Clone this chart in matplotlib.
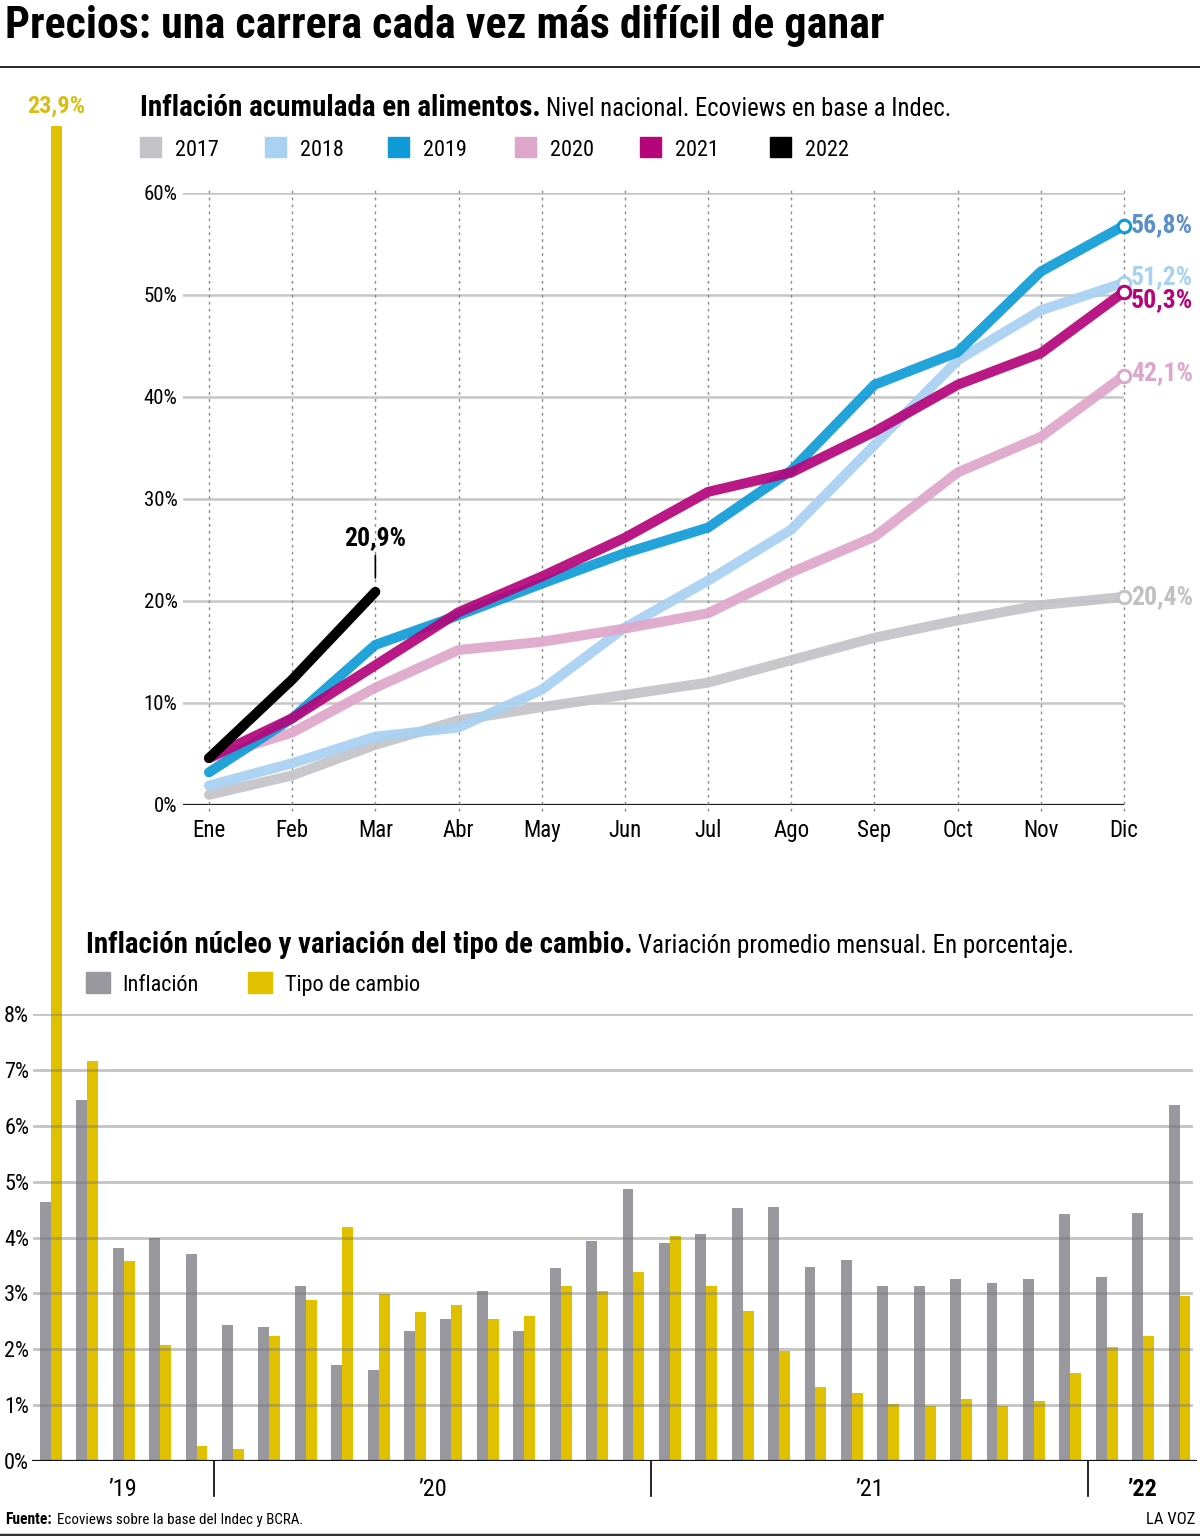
import numpy as np
import matplotlib
matplotlib.use("Agg")
import matplotlib.pyplot as plt
from matplotlib import font_manager
from matplotlib.patches import Rectangle
from matplotlib.lines import Line2D

W, H = 1200, 1536

# --- datos: inflación acumulada en alimentos (%) ---
meses = ["Ene", "Feb", "Mar", "Abr", "May", "Jun", "Jul", "Ago", "Sep", "Oct", "Nov", "Dic"]
anios = ["2017", "2018", "2019", "2020", "2021", "2022"]
alim_2017 = [1.0, 2.9, 5.9, 8.3, 9.6, 10.8, 12.0, 14.2, 16.4, 18.1, 19.6, 20.4]
alim_2018 = [1.9, 4.1, 6.7, 7.6, 11.3, 17.4, 22.0, 27.0, 35.3, 43.6, 48.5, 51.2]
alim_2019 = [3.2, 8.5, 15.7, 18.6, 21.7, 24.7, 27.2, 32.8, 41.2, 44.4, 52.3, 56.8]
alim_2020 = [4.6, 7.1, 11.5, 15.2, 16.0, 17.3, 18.8, 22.8, 26.3, 32.6, 36.1, 42.1]
alim_2021 = [4.6, 8.5, 13.7, 18.9, 22.4, 26.2, 30.7, 32.6, 36.6, 41.2, 44.3, 50.3]
alim_2022 = [4.6, 12.3, 20.9]
etiquetas_fin = ["20,4%", "51,2%", "56,8%", "42,1%", "50,3%"]

# --- datos: inflación núcleo y tipo de cambio, ago-2019 a mar-2022 (%) ---
secciones = ["’19", "’20", "’21", "’22"]
meses_por_seccion = [5, 12, 12, 3]
inflacion = [4.64, 6.46, 3.81, 4.0, 3.70,
             2.44, 2.39, 3.14, 1.72, 1.62, 2.32, 2.55, 3.05, 2.32, 3.46, 3.94, 4.87,
             3.91, 4.07, 4.52, 4.55, 3.47, 3.60, 3.14, 3.14, 3.26, 3.19, 3.26, 4.42,
             3.29, 4.44, 6.38]
tipo_cambio = [23.9, 7.16, 3.58, 2.07, 0.26,
               0.22, 2.23, 2.89, 4.18, 2.99, 2.67, 2.79, 2.55, 2.60, 3.14, 3.05, 3.38,
               4.02, 3.14, 2.69, 1.97, 1.33, 1.21, 1.02, 0.99, 1.11, 0.98, 1.07, 1.57,
               2.04, 2.23, 2.95]

colores = ["#c3c3c8", "#a8d1f2", "#0f9bd7", "#dfa6cb", "#b4057b", "#000000"]
colores_etq = ["#c0c0c5", "#a8d1f2", "#5b8fc7", "#dfa6cb", "#b4057b"]
GRIS = "#98989e"
AMARILLO = "#e1c000"

disponibles = {f.name for f in font_manager.fontManager.ttflist}
FUENTE = next((f for f in ["Roboto Condensed", "Open Sans Condensed", "Liberation Sans Narrow", "Roboto"]
               if f in disponibles), "DejaVu Sans")
plt.rcParams["font.family"] = [FUENTE, "DejaVu Sans"]

fig = plt.figure(figsize=(W / 100, H / 100), dpi=100)
fig.patch.set_facecolor("white")
renderer = fig.canvas.get_renderer()


def fx(x):
    return x / W


def fy(y):
    return 1 - y / H


def texto(x, y, s, size, ancho=None, **kw):
    t = fig.text(fx(x), fy(y), s, fontsize=size, va="baseline", **kw)
    if ancho is not None:
        bb = t.get_window_extent(renderer)
        t.set_fontsize(size * ancho / bb.width)
    return t


def rico(x, y, negrita, normal, size, ancho1, ancho2):
    t = texto(x, y, negrita, size, ancho1, fontweight="bold")
    bb = t.get_window_extent(renderer)
    texto(bb.x1 + 5, y, normal, size, ancho2)


# título y reglas
texto(5, 38, "Precios: una carrera cada vez más difícil de ganar", 30, 880, fontweight="black")
fig.add_artist(Line2D([0, 1], [fy(67), fy(67)], color="black", lw=1.2))
fig.add_artist(Line2D([0, 1], [fy(1534.5), fy(1534.5)], color="#333333", lw=2.5))

# ---------------- gráfico superior ----------------
rico(140, 116, "Inflación acumulada en alimentos.", "Nivel nacional. Ecoviews en base a Indec.", 19, 401, 404)
leg_x = [140, 265, 388, 515, 640, 770]
for xx, lab, c in zip(leg_x, anios, colores):
    fig.add_artist(Rectangle((fx(xx), fy(157)), 21 / W, 20 / H, color=c, transform=fig.transFigure))
    texto(xx + 35, 156, lab, 16)

ax = fig.add_axes([fx(183), fy(805), (1124 - 183) / W, (805 - 193) / H])
ax.set_xlim(-26 / 83.2, 11)
ax.set_ylim(0, 60)
ax.patch.set_alpha(0)
for s in ax.spines.values():
    s.set_visible(False)
for v in range(10, 70, 10):
    ax.axhline(v, color="#c6c6c6", lw=1.8, zorder=1)
ax.axhline(0, color="#1a1a1a", lw=1.6, zorder=1)
for i in range(12):
    ax.plot([i, i], [-0.6, 60.4], color="#8a8a8a", lw=1, ls=(0, (2, 3)), zorder=1, clip_on=False)

ax.set_yticks(range(0, 70, 10), [f"{v}%" for v in range(0, 70, 10)])
ax.set_xticks(range(12), meses)
ax.tick_params(length=0, labelsize=15)
ax.tick_params(axis="y", pad=4)
ax.tick_params(axis="x", pad=10, labelsize=16.5)

series = [alim_2017, alim_2018, alim_2019, alim_2020, alim_2021, alim_2022]
orden = [0, 1, 3, 2, 4, 5]
for z, k in enumerate(orden):
    s = series[k]
    ax.plot(range(len(s)), s, color=colores[k], lw=7.2, alpha=0.92 if k < 5 else 1,
            solid_capstyle="round", solid_joinstyle="round", zorder=3 + z, clip_on=False)

desp = [0, 6, 0, 2, -8]
for k in range(5):
    v = series[k][-1]
    ax.plot(11, v, "o", ms=9, mfc="white", mec=colores[k], mew=2.2, zorder=10, clip_on=False)
    ax.annotate(etiquetas_fin[k], (11, v), xytext=(7, desp[k]), textcoords="offset pixels",
                va="center", ha="left", fontsize=18.5, fontweight="bold", color=colores_etq[k],
                annotation_clip=False)

ax.annotate("20,9%", (2, alim_2022[-1]), xytext=(0, 42), textcoords="offset pixels",
            ha="center", va="bottom", fontsize=18.5, fontweight="bold", color="black",
            arrowprops=dict(arrowstyle="-", color="black", lw=1.2, shrinkA=2, shrinkB=10))

# ---------------- gráfico inferior ----------------
rico(86, 953, "Inflación núcleo y variación del tipo de cambio.",
     "Variación promedio mensual. En porcentaje.", 19, 546, 437)
fig.add_artist(Rectangle((fx(86), fy(993)), 24 / W, 21 / H, color=GRIS, transform=fig.transFigure))
texto(122, 991, "Inflación", 16)
fig.add_artist(Rectangle((fx(248), fy(993)), 24 / W, 21 / H, color=AMARILLO, transform=fig.transFigure))
texto(285, 991, "Tipo de cambio", 16)

bx = fig.add_axes([fx(32), fy(1461), (1197 - 32) / W, (1461 - 1014) / H])
n = len(inflacion)
bx.set_xlim(0, n)
bx.set_ylim(0, 8)
bx.patch.set_alpha(0)
for s in bx.spines.values():
    s.set_visible(False)
x = np.arange(n)
bx.bar(x + 0.37, inflacion, width=0.3, color=GRIS, zorder=2, clip_on=False)
bx.bar(x + 0.67, tipo_cambio, width=0.3, color=AMARILLO, zorder=2, clip_on=False)
for v in range(1, 9):
    bx.axhline(v, xmin=0.002, xmax=0.995, color="#7a7a7a", alpha=0.45, lw=2, zorder=3)
bx.axhline(0, color="#111111", lw=1.6, zorder=4)
bx.set_yticks(range(0, 9), [f"{v}%" for v in range(0, 9)])
bx.set_xticks([])
bx.tick_params(length=0, labelsize=16, pad=2)

bx.annotate("23,9%", (0.67, tipo_cambio[0]), xytext=(0, 8), textcoords="offset pixels",
            ha="center", va="bottom", fontsize=17.5, fontweight="bold", color="#d8bd12",
            annotation_clip=False)

tr = bx.get_xaxis_transform()
inicio = 0
for i, (lab, m) in enumerate(zip(secciones, meses_por_seccion)):
    bx.text(inicio + m / 2, -28 / 447, lab, transform=tr, ha="center", va="center",
            fontsize=17.5, fontweight="bold" if i == len(secciones) - 1 else "normal")
    inicio += m
    if i < len(secciones) - 1:
        bx.plot([inicio, inicio], [0, -35 / 447], transform=tr, color="black", lw=1.2, clip_on=False)

# pie
rico(5, 1524, "Fuente:", "Ecoviews sobre la base del Indec y BCRA.", 10.5, 47, 247)
texto(1195, 1524, "LA VOZ", 12, ha="right")

fig.savefig("out.png", dpi=100, facecolor="white")
